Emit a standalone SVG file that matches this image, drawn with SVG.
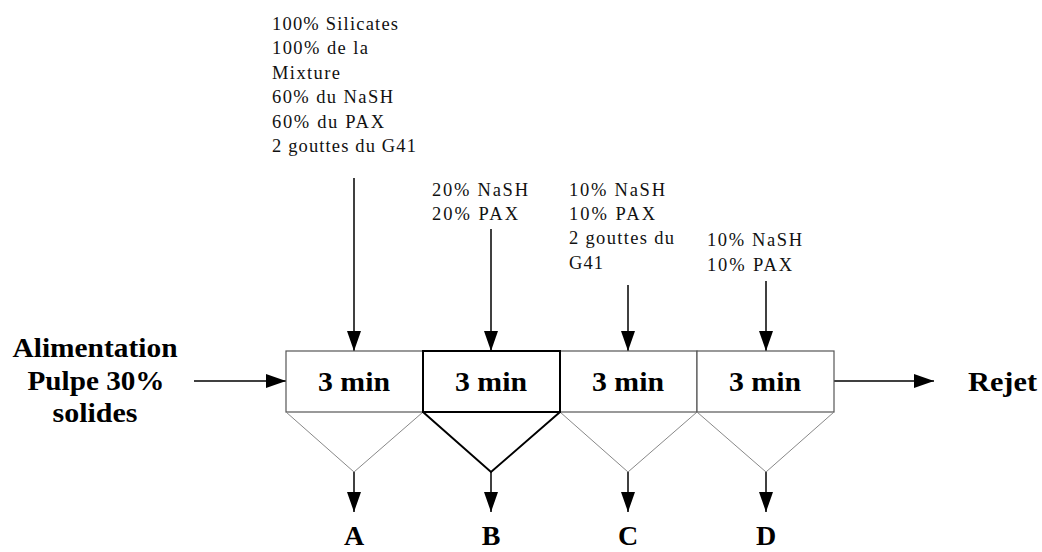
<svg xmlns="http://www.w3.org/2000/svg" width="1042" height="552" viewBox="0 0 1042 552">
<defs>
<marker id="ah" markerUnits="userSpaceOnUse" markerWidth="20" markerHeight="14" refX="20" refY="7" orient="auto">
<path d="M0,0 L20,7 L0,14 Z" fill="#000"/>
</marker>
<style>
.note{font-family:"Liberation Serif","Times New Roman",serif;font-size:18.5px;fill:#111}
.big{font-family:"Liberation Serif","Times New Roman",serif;font-size:28px;font-weight:bold;fill:#000}
.box{fill:#fff;stroke:#555;stroke-width:1.2}
.boxb{fill:#fff;stroke:#000;stroke-width:2}
.tri{fill:none;stroke:#888;stroke-width:1}
.trib{fill:none;stroke:#000;stroke-width:2}
.arr{stroke:#000;stroke-width:1.5;fill:none;marker-end:url(#ah)}
</style>
</defs>
<rect width="1042" height="552" fill="#fff"/>

<g id="connectors">
<line class="arr" x1="194" y1="381" x2="286" y2="381"/>
<line class="arr" x1="834" y1="381" x2="934" y2="381"/>
<line class="arr" x1="354" y1="178" x2="354" y2="351"/>
<line class="arr" x1="491" y1="229" x2="491" y2="351"/>
<line class="arr" x1="628" y1="285" x2="628" y2="351"/>
<line class="arr" x1="766" y1="281" x2="766" y2="351"/>
<line class="arr" x1="354" y1="472" x2="354" y2="512"/>
<line class="arr" x1="491" y1="472" x2="491" y2="512"/>
<line class="arr" x1="628" y1="472" x2="628" y2="512"/>
<line class="arr" x1="766" y1="472" x2="766" y2="512"/>
</g>

<g id="feed">
<text class="big" x="95" y="357" text-anchor="middle" textLength="165" lengthAdjust="spacingAndGlyphs">Alimentation</text>
<text class="big" x="96" y="390" text-anchor="middle" textLength="137" lengthAdjust="spacingAndGlyphs">Pulpe 30%</text>
<text class="big" x="95" y="422" text-anchor="middle" textLength="85" lengthAdjust="spacingAndGlyphs">solides</text>
</g>

<g id="cell1">
<rect class="box" x="286" y="351" width="137" height="61"/>
<polyline class="tri" points="286,412 354,472 423,412"/>
<text class="big" x="354" y="391" text-anchor="middle" textLength="72" lengthAdjust="spacingAndGlyphs">3 min</text>
</g>
<g id="cell3">
<rect class="box" x="560" y="351" width="137" height="61"/>
<polyline class="tri" points="560,412 628,472 697,412"/>
<text class="big" x="628" y="391" text-anchor="middle" textLength="72" lengthAdjust="spacingAndGlyphs">3 min</text>
</g>
<g id="cell4">
<rect class="box" x="697" y="351" width="137" height="61"/>
<polyline class="tri" points="697,412 766,472 834,412"/>
<text class="big" x="765" y="391" text-anchor="middle" textLength="72" lengthAdjust="spacingAndGlyphs">3 min</text>
</g>
<g id="cell2">
<rect class="boxb" x="423" y="351" width="137" height="61"/>
<polyline class="trib" points="423,412 491,472 560,412"/>
<text class="big" x="491" y="391" text-anchor="middle" textLength="72" lengthAdjust="spacingAndGlyphs">3 min</text>
</g>

<g id="reject">
<text class="big" x="968" y="391" textLength="69" lengthAdjust="spacingAndGlyphs">Rejet</text>
</g>

<g id="note1">
<text class="note" x="272" y="30" textLength="126" lengthAdjust="spacing">100% Silicates</text>
<text class="note" x="272" y="54" textLength="96" lengthAdjust="spacing">100% de la</text>
<text class="note" x="272" y="79" textLength="68" lengthAdjust="spacing">Mixture</text>
<text class="note" x="272" y="103" textLength="121" lengthAdjust="spacing">60% du NaSH</text>
<text class="note" x="272" y="128" textLength="112" lengthAdjust="spacing">60% du PAX</text>
<text class="note" x="272" y="152" textLength="144" lengthAdjust="spacing">2 gouttes du G41</text>
</g>
<g id="note2">
<text class="note" x="432" y="196" textLength="96" lengthAdjust="spacing">20% NaSH</text>
<text class="note" x="432" y="220" textLength="86" lengthAdjust="spacing">20% PAX</text>
</g>
<g id="note3">
<text class="note" x="569" y="196" textLength="96" lengthAdjust="spacing">10% NaSH</text>
<text class="note" x="569" y="220" textLength="86" lengthAdjust="spacing">10% PAX</text>
<text class="note" x="569" y="244" textLength="105" lengthAdjust="spacing">2 gouttes du</text>
<text class="note" x="569" y="269" textLength="34" lengthAdjust="spacing">G41</text>
</g>
<g id="note4">
<text class="note" x="707" y="246" textLength="95" lengthAdjust="spacing">10% NaSH</text>
<text class="note" x="707" y="271" textLength="85" lengthAdjust="spacing">10% PAX</text>
</g>

<g id="outA"><text class="big" x="354" y="545" text-anchor="middle">A</text></g>
<g id="outB"><text class="big" x="491" y="545" text-anchor="middle">B</text></g>
<g id="outC"><text class="big" x="628" y="545" text-anchor="middle">C</text></g>
<g id="outD"><text class="big" x="766" y="545" text-anchor="middle">D</text></g>
</svg>
